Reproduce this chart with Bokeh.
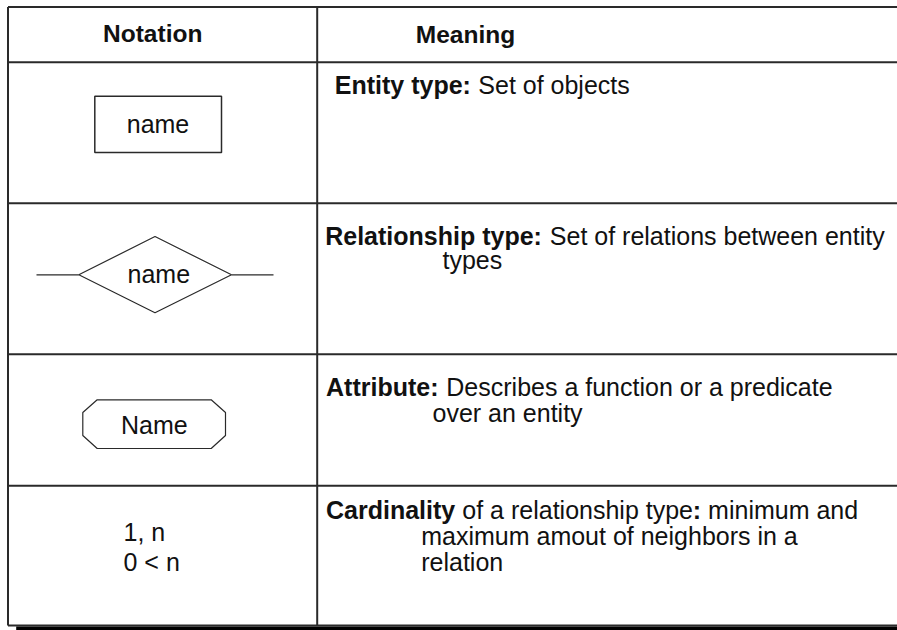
from bokeh.plotting import figure
from bokeh.models import Range1d
from bokeh.embed import file_html
from bokeh.resources import INLINE
from bokeh.core.properties import value

# ---- content -------------------------------------------------------------
headers = ["Notation", "Meaning"]
shape_labels = ["name", "name", "Name"]
cardinality_labels = ["1, n", "0 < n"]

bold_parts = ["Entity type:", "Relationship type:", "Attribute:", "Cardinality", ":"]
regular_parts = ["Set of objects",
                 "Set of relations between entity",
                 "types",
                 "Describes a function or a predicate",
                 "over an entity",
                 "of a relationship type",
                 "minimum and",
                 "maximum amout of neighbors in a",
                 "relation"]

# ---- page geometry (1 data unit = 1 screen px, page coordinates) ---------
W, H = 897, 630
X0, Y0 = 0, 0
p = figure(width=W, height=H, output_backend="svg", toolbar_location=None,
           x_range=Range1d(X0, X0 + W), y_range=Range1d(Y0 + H, Y0),
           x_axis_type=None, y_axis_type=None, min_border=0,
           outline_line_color=None, background_fill_color="white",
           border_fill_color="white")
p.grid.visible = False

LINE = "#2a2a2a"
FONT = value("Liberation Sans")
RIGHT = X0 + W
DY = -9.5  # correction from alphabetic baseline to rendered position


def sh(ys):
    return [y + DY for y in ys]


# table rules
row_edges = [6.5, 61.7, 202.7, 353.7, 485.3, 625.0]
col_div = 316.7
left_edge = 7.5
p.segment(x0=[left_edge] * len(row_edges), y0=row_edges,
          x1=[RIGHT] * len(row_edges), y1=row_edges,
          line_color=LINE, line_width=2)
p.segment(x0=[left_edge, col_div], y0=[row_edges[0], row_edges[0]],
          x1=[left_edge, col_div], y1=[row_edges[-1], row_edges[-1]],
          line_color=LINE, line_width=2)
# drop shadow at bottom
p.quad(left=[15.7], right=[RIGHT], top=[626.0], bottom=[Y0 + H],
       fill_color="black", line_color=None)

# entity rectangle
p.quad(left=[94.3], right=[221.0], top=[95.7], bottom=[152.0],
       fill_color=None, line_color=LINE, line_width=1.5)

# relationship diamond + connecting lines
p.patch(x=[78.3, 154.5, 231.0, 154.5], y=[274.3, 236.0, 274.3, 312.3],
        fill_color=None, line_color=LINE, line_width=1.2)
p.segment(x0=[36.0, 231.0], y0=[274.3, 274.3], x1=[78.3, 273.0], y1=[274.3, 274.3],
          line_color=LINE, line_width=1.2)

# attribute octagon
p.patch(x=[96.7, 210.7, 225.0, 225.0, 210.7, 96.7, 82.3, 82.3],
        y=[399.3, 399.3, 412.0, 435.0, 448.0, 448.0, 435.0, 412.0],
        fill_color=None, line_color=LINE, line_width=1.2)

# headers
p.text(x=[152.2, 465.0], y=sh([42.0, 43.0]), text=headers, text_font=FONT,
       text_font_size="24.5px", text_font_style="bold", text_color="#111",
       text_align="center", text_baseline="alphabetic")

# labels inside shapes
p.text(x=[157.5, 158.3, 153.8], y=sh([133.3, 283.3, 434.3]), text=shape_labels,
       text_font=FONT, text_font_size="25px", text_color="#111",
       text_align="center", text_baseline="alphabetic")
p.text(x=[123.0, 123.0], y=sh([540.7, 570.7]), text=cardinality_labels,
       text_font=FONT, text_font_size="25px", text_color="#111",
       text_align="left", text_baseline="alphabetic")

# meaning column: bold parts
p.text(x=[334.3, 324.7, 325.5, 325.5, 692.3], y=sh([94.0, 245.0, 396.0, 519.0, 519.0]),
       text=bold_parts, text_font=FONT, text_font_size="25px",
       text_font_style="bold", text_color="#111",
       text_align="left", text_baseline="alphabetic")
# meaning column: regular parts
p.text(x=[477.8, 549.3, 442.0, 445.8, 432.0, 461.8, 707.6, 420.7, 420.7],
       y=sh([94.0, 245.0, 269.0, 396.0, 421.7, 519.0, 519.0, 545.0, 570.7]),
       text=regular_parts, text_font=FONT, text_font_size="25px",
       text_color="#111", text_align="left", text_baseline="alphabetic")

open("out.html", "w").write(file_html(p, INLINE))
